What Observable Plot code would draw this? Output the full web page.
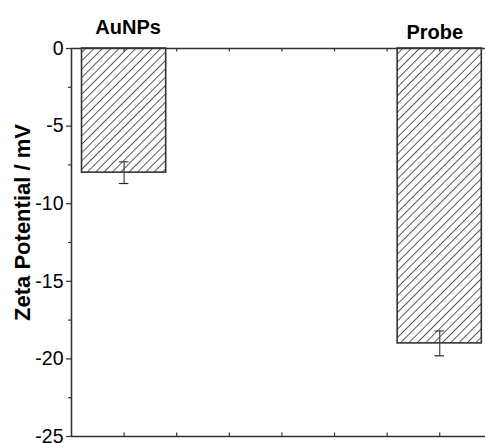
<!DOCTYPE html>
<html>
<head>
<meta charset="utf-8">
<script src="https://cdn.jsdelivr.net/npm/d3@7"></script>
<script src="https://cdn.jsdelivr.net/npm/@observablehq/plot@0.6"></script>
<style>
  html, body { margin: 0; padding: 0; background: #fff; }
</style>
</head>
<body>
<div id="chart"></div>
<script>
// ---- data ----
const categories = ["AuNPs", "Probe"];
const positions = [1, 7];
const values = [-8.0, -19.0];
const errors = [0.7, 0.8];
const yTicks = [0, -5, -10, -15, -20, -25];
const yMinorTicks = [-2.5, -7.5, -12.5, -17.5, -22.5];
const xTicks = [1, 2, 3, 4, 5, 6, 7];
const yLabel = "Zeta Potential / mV";

const bars = categories.map((c, i) => ({name: c, x: positions[i], value: values[i], err: errors[i]}));

const barWidth = 1.6;
const capHalf = 0.09;
const tickLen = 0.22;
const axisColor = "#333";
const font = "'Liberation Sans', Arial, Helvetica, sans-serif";

const chart = Plot.plot({
  width: 485,
  height: 443,
  marginLeft: 71,
  marginRight: 0,
  marginTop: 48,
  marginBottom: 7,
  x: {domain: [0, 7.87], axis: null},
  y: {domain: [-25, 0], axis: null},
  style: {fontFamily: font, fontSize: "19.5px", background: "white", color: "black", overflow: "visible"},
  marks: [
    Plot.rect(bars, {
      x1: d => d.x - barWidth / 2, x2: d => d.x + barWidth / 2,
      y1: 0, y2: "value",
      fill: "url(#hatch)", stroke: axisColor, strokeWidth: 1.6
    }),
    Plot.ruleX(bars, {x: "x", y1: d => d.value - d.err, y2: d => d.value + d.err, stroke: "#444", strokeWidth: 1.2}),
    Plot.ruleY(bars, {y: d => d.value - d.err, x1: d => d.x - capHalf, x2: d => d.x + capHalf, stroke: "#222", strokeWidth: 1.2}),
    Plot.ruleY(bars, {y: d => d.value + d.err, x1: d => d.x - capHalf, x2: d => d.x + capHalf, stroke: "#444", strokeWidth: 1.2}),
    // axis frame lines
    Plot.ruleX([0], {stroke: axisColor, strokeWidth: 1.6}),
    Plot.ruleY([yTicks[0], yTicks[yTicks.length - 1]], {stroke: axisColor, strokeWidth: 1.6}),
    // inward x ticks on top and bottom
    Plot.ruleX(xTicks, {x: d => d, y1: yTicks[0], y2: yTicks[0] - tickLen, stroke: axisColor, strokeWidth: 1.2}),
    Plot.ruleX(xTicks, {x: d => d, y1: yTicks[yTicks.length - 1], y2: yTicks[yTicks.length - 1] + tickLen, stroke: axisColor, strokeWidth: 1.2}),
    // y axis
    Plot.axisY({ticks: yTicks, label: null, tickSize: 5, tickPadding: 3, stroke: axisColor, strokeWidth: 1.2, tickFormat: d => String(d), fill: "black"}),
    Plot.axisY({ticks: yMinorTicks, label: null, tickSize: 3, tickFormat: () => "", stroke: axisColor, strokeWidth: 1.2}),
    // category labels
    Plot.text([bars[0]], {x: "x", text: "name", frameAnchor: "top", lineAnchor: "bottom", dy: -15, dx: 4, fontWeight: "bold", fontSize: 20, letterSpacing: -1, fill: "black"}),
    Plot.text([bars[1]], {x: "x", text: "name", frameAnchor: "top", lineAnchor: "bottom", dy: -10, dx: -5, fontWeight: "bold", fontSize: 20, letterSpacing: -1, fill: "black"}),
    // y label
    Plot.text([yLabel], {frameAnchor: "left", textAnchor: "middle", lineAnchor: "middle", dx: -49, dy: -20, rotate: -90, fontWeight: "bold", fontSize: 22, fill: "black"})
  ]
});

// hatch pattern definition
const svg = chart.tagName.toLowerCase() === "svg" ? chart : chart.querySelector("svg");
const defs = d3.select(svg).insert("defs", ":first-child");
const pat = defs.append("pattern")
  .attr("id", "hatch")
  .attr("patternUnits", "userSpaceOnUse")
  .attr("width", 5.9)
  .attr("height", 5.9)
  .attr("patternTransform", "rotate(45)");
pat.append("rect").attr("width", 5.9).attr("height", 5.9).attr("fill", "white");
pat.append("line").attr("x1", 0).attr("y1", 0).attr("x2", 0).attr("y2", 5.9)
  .attr("stroke", "#000").attr("stroke-width", 1.3);

document.getElementById("chart").appendChild(chart);
</script>
</body>
</html>
